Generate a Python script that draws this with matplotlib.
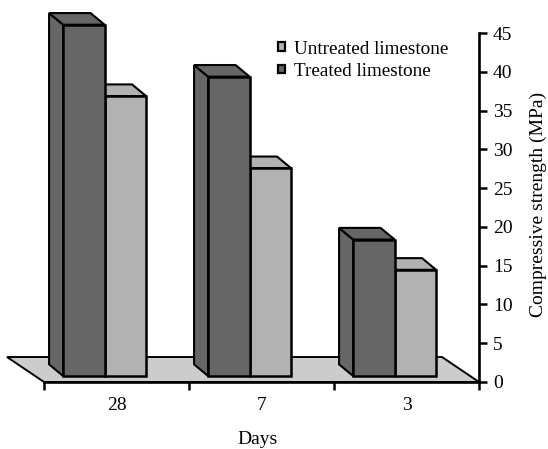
import numpy as np
import matplotlib
matplotlib.use('Agg')
import matplotlib.pyplot as plt
from matplotlib.patches import Polygon, Patch

plt.rcParams['font.family'] = ['Liberation Serif', 'DejaVu Serif']

## DATA
days = ['28', '7', '3']
treated = [45.3, 38.6, 17.6]
untreated = [36.1, 26.8, 13.7]
yticks = [0, 5, 10, 15, 20, 25, 30, 35, 40, 45]

DARK = '#666666'
LIGHT = '#b2b2b2'
FLOOR = '#cccccc'

## 3D look, in data units
bar_w = 0.286
bar_x0 = 0.132
base = 0.77
dx = -0.097
dy = 1.5
floor_dx = -0.255
floor_dy = 3.22


def drawBar(ax, x, val, color):
  top = base + val
  ax.bar(x, val, width=bar_w, bottom=base, align='edge', color=color,
         edgecolor='k', lw=1.8, zorder=4, clip_on=False)
  side = [(x, base), (x, top), (x + dx, top + dy), (x + dx, base + dy)]
  roof = [(x, top), (x + bar_w, top), (x + bar_w + dx, top + dy), (x + dx, top + dy)]
  ax.add_patch(Polygon(side, fc=color, ec='k', lw=1.5, zorder=3, clip_on=False))
  ax.add_patch(Polygon(roof, fc=color, ec='k', lw=1.5, zorder=3, clip_on=False))


W, H = 548, 449
fig = plt.figure(figsize=(W / 100, H / 100), dpi=100, facecolor='w')
ax = fig.add_axes([44 / W, 1 - 382 / H, 435 / W, 349 / H])

n = len(days)
ax.add_patch(Polygon([(0, 0), (n, 0), (n + floor_dx, floor_dy), (floor_dx, floor_dy)],
                     fc=FLOOR, ec='k', lw=1.4, zorder=1, clip_on=False))

# the light bar goes first so the dark one sits over its side face
for i in range(n):
  drawBar(ax, i + bar_x0 + bar_w, untreated[i], LIGHT)
  drawBar(ax, i + bar_x0, treated[i], DARK)

ax.set_xlim(0, n)
ax.set_ylim(0, 45)

ax.spines['left'].set_visible(False)
ax.spines['top'].set_visible(False)
for s in ['right', 'bottom']:
  ax.spines[s].set_linewidth(1.9)
  ax.spines[s].set_zorder(5)

ax.yaxis.tick_right()
ax.yaxis.set_label_position('right')
ax.set_yticks(yticks)
ax.tick_params(axis='y', direction='out', length=6, width=1.8, pad=4, labelsize=14)

ax.set_xticks(np.arange(n + 1))
ax.set_xticklabels([])
ax.set_xticks(np.arange(n) + 0.5, labels=days, minor=True)
ax.tick_params(axis='x', which='major', direction='out', length=6, width=1.8)
ax.tick_params(axis='x', which='minor', length=0, pad=11, labelsize=14)

fig.text(258 / W, 1 - 440 / H, 'Days', ha='center', va='center', fontsize=14)
fig.text(538.5 / W, 1 - 204 / H, 'Compressive strength (MPa)', rotation=90,
         ha='center', va='center', fontsize=14)

handles = [Patch(fc=LIGHT, ec='k', lw=1.6), Patch(fc=DARK, ec='k', lw=1.6)]
leg = fig.legend(handles, ['Untreated limestone', 'Treated limestone'],
                 loc='upper left', bbox_to_anchor=(277.5 / W, 1 - 40.5 / H),
                 frameon=False, fontsize=13.8, handlelength=0.4, handleheight=0.3,
                 handletextpad=0.45, labelspacing=0.27, borderpad=0, borderaxespad=0)

fig.savefig('out.png', dpi=100)
